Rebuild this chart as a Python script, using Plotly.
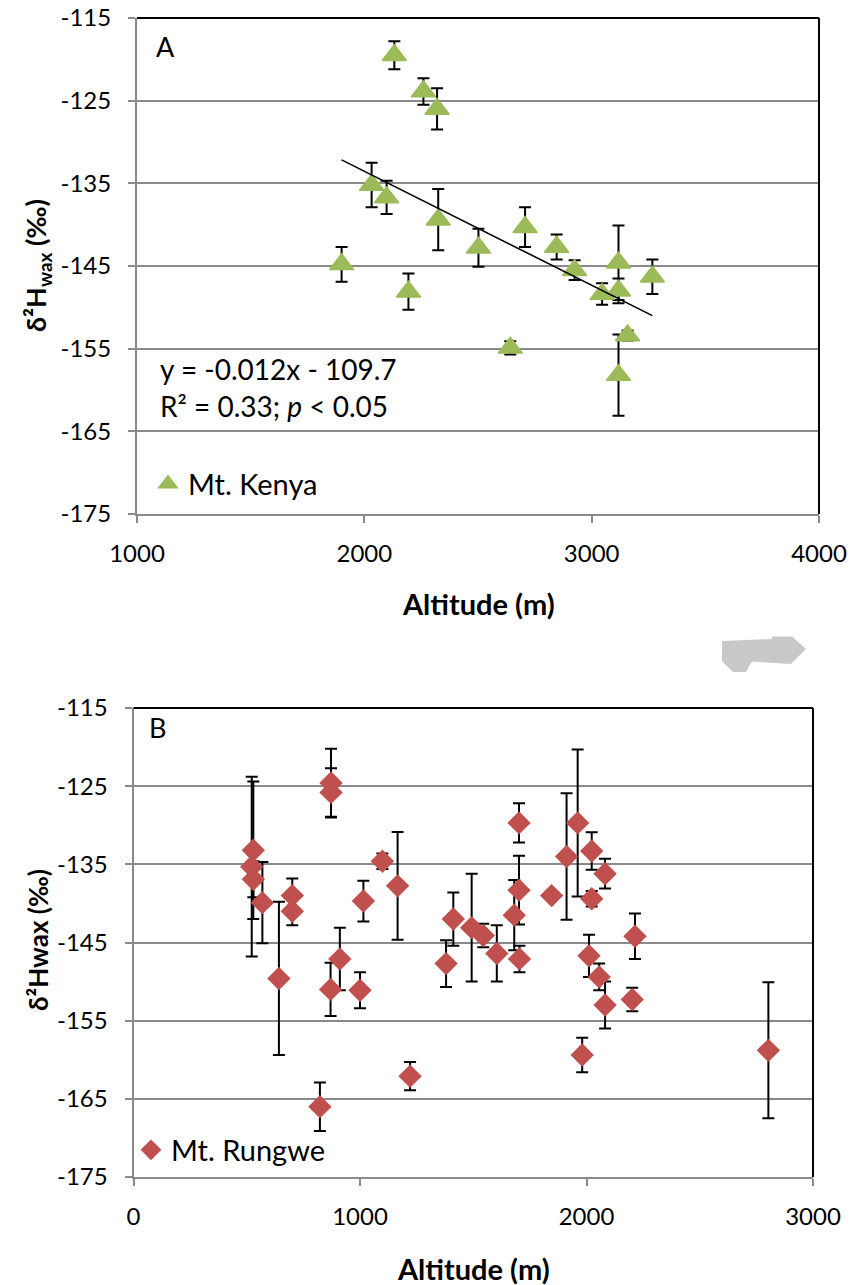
import numpy as np
import plotly.graph_objects as go

W, H = 853, 1285

# ---------------- data ----------------
kenya_alt = [1900, 2032, 2098, 2132, 2260, 2320, 2325, 2194, 2502, 2707,
             2846, 2925, 3046, 3118, 3118, 3118, 3158, 3267, 2642]
kenya_d2h = [-144.8, -135.2, -136.7, -119.5, -123.9, -126.0, -139.4, -148.1, -142.8, -140.3,
             -142.7, -145.5, -148.4, -144.6, -148.0, -158.2, -153.4, -146.3, -154.9]
kenya_err = [2.1, 2.7, 2.0, 1.7, 1.6, 2.5, 3.7, 2.2, 2.3, 2.4,
             1.5, 1.2, 1.3, 4.5, 1.5, 4.9, 0.6, 2.1, 0.8]

rungwe_alt = [529, 522, 529, 569, 642, 701, 701, 872, 872, 823,
              870, 911, 1000, 1015, 1099, 1166, 1221, 1380, 1412, 1493,
              1544, 1604, 1681, 1702, 1702, 1704, 1846, 1912, 1961, 1981,
              2011, 2023, 2023, 2056, 2082, 2082, 2202, 2214, 2803]
rungwe_d2h = [-133.2, -135.3, -136.9, -139.9, -149.6, -139.0, -141.0, -124.6, -125.8, -166.0,
              -151.0, -147.1, -151.1, -139.7, -134.6, -137.75, -162.1, -147.7, -142.0, -143.1,
              -144.1, -146.4, -141.5, -129.7, -138.3, -147.1, -139.0, -134.0, -129.7, -159.4,
              -146.7, -133.3, -139.4, -149.4, -136.2, -153.0, -152.3, -144.2, -158.8]
rungwe_err = [8.8, 11.5, 2.3, 5.2, 9.8, 2.2, 1.8, 4.4, 3.1, 3.1,
              3.4, 4.0, 2.3, 2.6, 1.0, 6.9, 1.8, 3.0, 3.4, 6.9,
              1.5, 3.6, 4.5, 2.5, 4.4, 1.7, 0.0, 8.1, 9.4, 2.2,
              2.7, 2.4, 1.0, 1.7, 1.9, 3.0, 1.5, 2.9, 8.7]

y_ticks = [-115, -125, -135, -145, -155, -165, -175]
y_ticktext = ["-115", "-125", "-135", "-145", "-155", "-165", "-175"]
xA_ticks = [1000, 2000, 3000, 4000]
xB_ticks = [0, 1000, 2000, 3000]

eq_text = "y = -0.012x - 109.7"
stat_text = "R² = 0.33; <i>p</i> &lt; 0.05"


def px(x):
    return x / W


def py(y):
    return 1 - y / H


FONT = "Lato, 'Open Sans', sans-serif"
GRID = "#8a8a8a"

slope, intercept = np.polyfit(kenya_alt, kenya_d2h, 1)
trend_x = np.array([min(kenya_alt), max(kenya_alt)])
trend_y = slope * trend_x + intercept

fig = go.Figure()

fig.add_trace(go.Scatter(
    x=kenya_alt, y=kenya_d2h, mode="markers", name="Mt. Kenya",
    marker=dict(symbol="triangle-up", size=21, color="#9BBB59",
                line=dict(color="#9BBB59", width=1.5)),
    error_y=dict(type="data", array=kenya_err, color="black", thickness=2, width=6),
    xaxis="x", yaxis="y", legend="legend"))

fig.add_trace(go.Scatter(
    x=trend_x, y=trend_y, mode="lines", showlegend=False,
    line=dict(color="black", width=1.6), xaxis="x", yaxis="y"))

fig.add_trace(go.Scatter(
    x=rungwe_alt, y=rungwe_d2h, mode="markers", name="Mt. Rungwe",
    marker=dict(symbol="diamond", size=18, color="#C0504D"),
    error_y=dict(type="data", array=rungwe_err, color="black", thickness=2, width=6),
    xaxis="x2", yaxis="y2", legend="legend2"))

yax = dict(range=[-175, -115], tickvals=y_ticks, ticktext=y_ticktext,
           showgrid=True, gridcolor=GRID, gridwidth=2,
           showline=True, linecolor=GRID, linewidth=2, ticks="outside", ticklen=7,
           tickcolor=GRID, tickwidth=2, tickfont=dict(size=24, color="black", family=FONT),
           zeroline=False, automargin=False, ticklabelstandoff=12)
xax = dict(showgrid=False, showline=True, linecolor=GRID, linewidth=2, ticks="outside",
           ticklen=7, tickcolor=GRID, tickwidth=2,
           tickfont=dict(size=24, color="black", family=FONT),
           zeroline=False, automargin=False, ticklabelstandoff=10)

fig.update_layout(
    width=W, height=H, margin=dict(l=0, r=0, t=0, b=0),
    paper_bgcolor="white", plot_bgcolor="white",
    font=dict(family=FONT, color="black"),
    xaxis=dict(xax, range=[1000, 4000], tickvals=xA_ticks,
               domain=[px(137), px(819)], anchor="y"),
    yaxis=dict(yax, domain=[py(514), py(18)], anchor="x"),
    xaxis2=dict(xax, range=[0, 3000], tickvals=xB_ticks,
                domain=[px(133.5), px(813)], anchor="y2"),
    yaxis2=dict(yax, domain=[py(1177), py(708)], anchor="x2"),
    legend=dict(x=px(148), y=py(484), xanchor="left", yanchor="middle",
                bgcolor="rgba(0,0,0,0)", font=dict(size=29, family=FONT),
                itemsizing="trace"),
    legend2=dict(x=px(131), y=py(1150), xanchor="left", yanchor="middle",
                 bgcolor="rgba(0,0,0,0)", font=dict(size=29, family=FONT),
                 itemsizing="trace"),
)

ann = [
    dict(text="A", x=px(165), y=py(47), font=dict(size=27)),
    dict(text="B", x=px(157), y=py(727), font=dict(size=27)),
    dict(text=eq_text, x=px(158), y=py(369), xanchor="left", font=dict(size=28)),
    dict(text=stat_text, x=px(158), y=py(406), xanchor="left", font=dict(size=28)),
    dict(text="<b>Altitude (m)</b>", x=px(478), y=py(603), font=dict(size=29)),
    dict(text="<b>Altitude (m)</b>", x=px(473), y=py(1268), font=dict(size=29)),
    dict(text="<b>δ²H<sub>wax</sub> (‰)</b>", x=px(38), y=py(266), textangle=-90,
         font=dict(size=27)),
    dict(text="<b>δ²Hwax (‰)</b>", x=px(38), y=py(940), textangle=-90,
         font=dict(size=26)),
]
for a in ann:
    a.setdefault("xanchor", "center")
    a.update(xref="paper", yref="paper", yanchor="middle", showarrow=False)
fig.update_layout(annotations=ann)

shapes = []
# top and right plot borders
for (x0, x1, yt, yb) in [(137, 819, 18, 514), (133.5, 813, 708, 1177)]:
    shapes.append(dict(type="line", xref="paper", yref="paper", x0=px(x0), x1=px(x1),
                       y0=py(yt), y1=py(yt), line=dict(color="black", width=2)))
    shapes.append(dict(type="line", xref="paper", yref="paper", x0=px(x1), x1=px(x1),
                       y0=py(yt), y1=py(yb), line=dict(color="black", width=2)))

# grey arrow decoration
arrow_pts = [(722, 641), (772, 639), (772, 636.5), (792, 636.5), (806, 649), (791, 664),
             (752, 661.5), (746, 672), (733, 672), (722, 661)]
path = "M " + " L ".join(f"{px(x):.5f},{py(y):.5f}" for x, y in arrow_pts) + " Z"
shapes.append(dict(type="path", xref="paper", yref="paper", path=path,
                   fillcolor="#c8c8c8", line=dict(width=0)))
fig.update_layout(shapes=shapes)

fig.write_html("out.html")
